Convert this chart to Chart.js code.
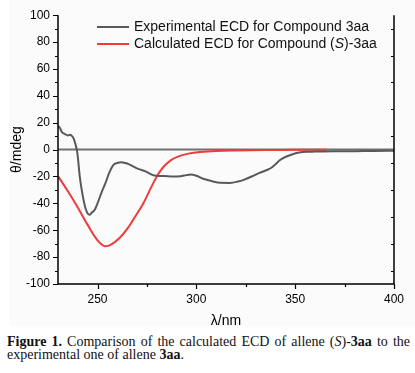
<!DOCTYPE html>
<html lang="en">
<head>
    <meta charset="UTF-8">
    <title>ECD of allene 3aa</title>
    <script src="https://cdn.jsdelivr.net/npm/chart.js"></script>
    <style>
        body {
            margin: 0;
            background-color: #fff;
            width: 415px;
            height: 373px;
            position: relative;
            overflow: hidden;
        }

        .chart-box {
            position: absolute;
            left: 9px;
            top: 0;
            width: 406px;
            height: 326px;
            background-color: #fbfbfb;
        }

        #ecdChart {
            position: absolute;
            left: 0;
            top: 0;
        }

        .caption {
            position: absolute;
            left: 7px;
            top: 335px;
            width: 403px;
            font-family: "Liberation Serif", serif;
            font-size: 14px;
            line-height: 13px;
            color: #111;
        }

        .caption .first {
            text-align: justify;
            text-align-last: justify;
            white-space: nowrap;
        }
    </style>
</head>
<body>
    <div class="chart-box"></div>
    <canvas id="ecdChart" width="415" height="330"></canvas>
    <div class="caption">
        <div class="first"><b>Figure 1.</b> Comparison of the calculated ECD of allene (<i>S</i>)-<b>3aa</b> to the</div>
        <div>experimental one of allene <b>3aa</b>.</div>
    </div>

    <script>
        // experimental spectrum (wavelength in nm, theta in mdeg)
        var expWavelength = [230, 231, 232, 233.5, 235, 236, 237, 238, 239, 239.5, 240, 241, 242, 243, 244, 245,
            246, 247, 248.5, 250, 252, 254, 256, 258, 260, 262, 264, 266, 268, 270, 272, 274, 276, 278, 280,
            284, 288, 292, 295, 297, 300, 303.5, 308, 312, 317, 321, 324, 328, 332, 336, 338, 340, 342, 345,
            348, 352, 356, 360, 370, 380, 390, 400];
        var expTheta = [17.8, 16, 13, 11.6, 10.5, 11, 10.2, 8, 3, 0, -5, -20, -30, -38, -44, -47.5,
            -48.5, -47, -45, -40, -32, -25, -17, -11.5, -10, -9.5, -10, -11, -12.5, -14, -15, -16, -17.5, -19, -19.5,
            -19.7, -20, -19.8, -19, -18.6, -19.5, -21.7, -23.5, -24.7, -24.8, -23.8, -22.5, -20, -17.3, -15, -13.5, -11, -8.1, -5.5,
            -3.8, -2.2, -1.6, -1.5, -1.3, -1.2, -1, -0.9];

        // calculated spectrum for (S)-3aa
        var calcWavelength = [230, 235, 240, 245, 250, 253.5, 257, 261, 265, 269, 273, 277, 280, 283, 287,
            291, 296, 302, 310, 320, 335, 350, 366];
        var calcTheta = [-19.7, -31, -43, -56, -67.5, -71.8, -70.5, -66, -59, -50, -40.5, -28.5, -20, -13.5, -8,
            -5, -3, -1.8, -1, -0.6, -0.3, -0.2, -0.1];

        var xTicks = [250, 300, 350, 400];
        var xMinorTicks = [275, 325, 375];
        var yTicks = [-100, -80, -60, -40, -20, 0, 20, 40, 60, 80, 100];
        var yMinorTicks = [-90, -70, -50, -30, -10, 10, 30, 50, 70, 90];

        var seriesLabels = ['Experimental ECD for Compound 3aa', 'Calculated ECD for Compound (S)-3aa'];
        var seriesColors = ['#595959', '#ef3b3b'];

        function toPoints(xs, ys) {
            return xs.map(function (v, i) { return { x: v, y: ys[i] }; });
        }

        // axes frame, tick marks, zero line and the legend are drawn here
        var framePlugin = {
            id: 'frame',
            beforeDatasetsDraw: function (chart) {
                var ctx = chart.ctx, a = chart.chartArea, y = chart.scales.y;
                var y0 = y.getPixelForValue(0);
                ctx.save();
                ctx.strokeStyle = '#707070';
                ctx.lineWidth = 2;
                ctx.beginPath();
                ctx.moveTo(a.left, y0);
                ctx.lineTo(a.right, y0);
                ctx.stroke();
                ctx.restore();
            },
            afterDraw: function (chart) {
                var ctx = chart.ctx, a = chart.chartArea;
                var x = chart.scales.x, y = chart.scales.y;
                ctx.save();
                ctx.strokeStyle = '#000';
                ctx.lineWidth = 1.5;
                ctx.beginPath();
                ctx.moveTo(a.left, a.top);
                ctx.lineTo(a.left, a.bottom);
                ctx.lineTo(a.right, a.bottom);
                ctx.lineTo(a.right, a.top);
                ctx.stroke();

                ctx.lineWidth = 1.2;
                ctx.beginPath();
                yTicks.forEach(function (v) {
                    var p = Math.round(y.getPixelForValue(v)) + 0.5;
                    ctx.moveTo(a.left, p); ctx.lineTo(a.left - 5, p);
                });
                yMinorTicks.forEach(function (v) {
                    var p = Math.round(y.getPixelForValue(v)) + 0.5;
                    ctx.moveTo(a.left, p); ctx.lineTo(a.left - 3, p);
                    ctx.moveTo(a.right, p); ctx.lineTo(a.right - 3, p);
                });
                xTicks.forEach(function (v) {
                    var p = Math.round(x.getPixelForValue(v)) + 0.5;
                    ctx.moveTo(p, a.bottom); ctx.lineTo(p, a.bottom + 5);
                });
                xMinorTicks.forEach(function (v) {
                    var p = Math.round(x.getPixelForValue(v)) + 0.5;
                    ctx.moveTo(p, a.bottom); ctx.lineTo(p, a.bottom + 3);
                });
                ctx.stroke();

                // legend
                var font = '14px "Liberation Sans", Arial, sans-serif';
                ctx.font = font;
                ctx.textBaseline = 'middle';
                ctx.fillStyle = '#111';
                chart.data.datasets.forEach(function (ds, i) {
                    var ly = 27 + i * 17;
                    ctx.strokeStyle = ds.borderColor;
                    ctx.lineWidth = 2;
                    ctx.beginPath();
                    ctx.moveTo(97, ly);
                    ctx.lineTo(129, ly);
                    ctx.stroke();
                    var tx = 134;
                    ds.label.split(/(\(S\))/).forEach(function (part) {
                        if (part === '(S)') {
                            ctx.fillText('(', tx, ly); tx += ctx.measureText('(').width;
                            ctx.font = 'italic ' + font;
                            ctx.fillText('S', tx, ly); tx += ctx.measureText('S').width;
                            ctx.font = font;
                            ctx.fillText(')', tx, ly); tx += ctx.measureText(')').width;
                        } else {
                            ctx.fillText(part, tx, ly); tx += ctx.measureText(part).width;
                        }
                    });
                });
                ctx.restore();
            }
        };

        var tickFont = { family: '"Liberation Sans", Arial, sans-serif', size: 12 };
        var titleFont = { family: '"Liberation Sans", Arial, sans-serif', size: 14 };

        var ctx = document.getElementById('ecdChart').getContext('2d');
        var ecdChart = new Chart(ctx, {
            type: 'line',
            data: {
                datasets: [{
                    label: seriesLabels[0],
                    data: toPoints(expWavelength, expTheta),
                    borderColor: seriesColors[0],
                    borderWidth: 2,
                    pointRadius: 0,
                    cubicInterpolationMode: 'monotone'
                }, {
                    label: seriesLabels[1],
                    data: toPoints(calcWavelength, calcTheta),
                    borderColor: seriesColors[1],
                    borderWidth: 2,
                    pointRadius: 0,
                    tension: 0.4
                }]
            },
            options: {
                responsive: false,
                animation: false,
                devicePixelRatio: 1,
                layout: { padding: { top: 14, right: 21, left: 0, bottom: 0 } },
                plugins: {
                    legend: { display: false },
                    tooltip: { enabled: false }
                },
                scales: {
                    x: {
                        type: 'linear',
                        min: 230,
                        max: 400,
                        afterBuildTicks: function (s) { s.ticks = xTicks.map(function (v) { return { value: v }; }); },
                        afterFit: function (s) { s.height = 46; },
                        grid: { display: false, drawTicks: false },
                        border: { display: false },
                        ticks: { font: tickFont, color: '#000', padding: 8, maxRotation: 0 },
                        title: { display: true, text: 'λ/nm', font: titleFont, color: '#000', padding: { top: 0, bottom: 0 } }
                    },
                    y: {
                        min: -100,
                        max: 100,
                        afterBuildTicks: function (s) { s.ticks = yTicks.map(function (v) { return { value: v }; }); },
                        afterFit: function (s) { s.width = 58; },
                        grid: { display: false, drawTicks: false },
                        border: { display: false },
                        ticks: { font: tickFont, color: '#000', padding: 8 },
                        title: { display: true, text: 'θ/mdeg', font: titleFont, color: '#000', padding: { top: 9, bottom: 0 } }
                    }
                }
            },
            plugins: [framePlugin]
        });
    </script>
</body>
</html>
